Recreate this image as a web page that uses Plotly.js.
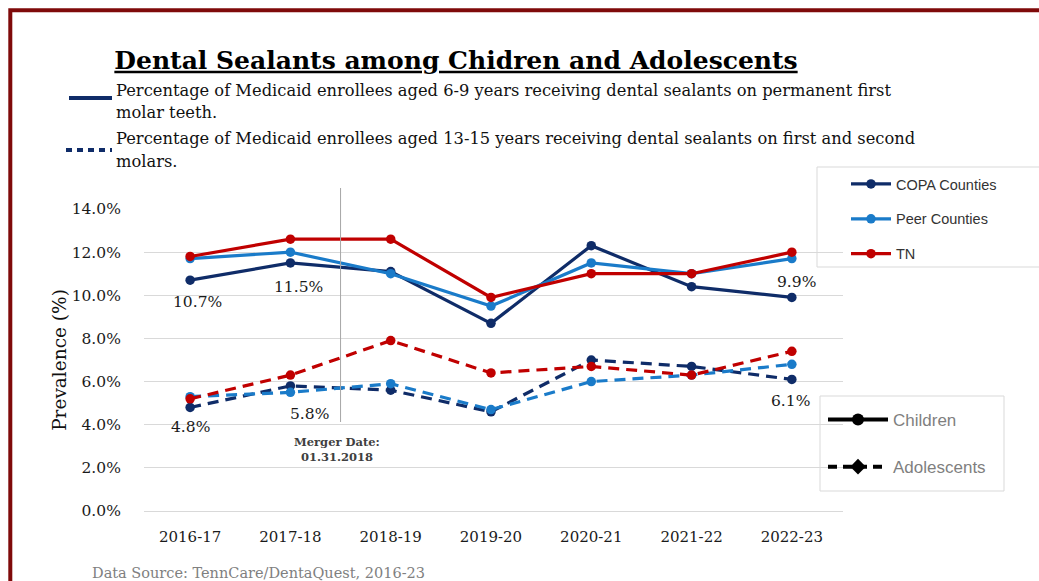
<!DOCTYPE html>
<html>
<head>
<meta charset="utf-8">
<script src="https://cdn.plot.ly/plotly-3.0.1.min.js"></script>
<style>html,body{margin:0;padding:0;background:#fff;}#chart{width:1039px;height:581px;}</style>
</head>
<body>
<div id="chart"></div>
<script>
// ---- data ----
const years = ['2016-17','2017-18','2018-19','2019-20','2020-21','2021-22','2022-23'];
const copaChildren = [10.7, 11.5, 11.1, 8.7, 12.3, 10.4, 9.9];
const peerChildren = [11.7, 12.0, 11.0, 9.5, 11.5, 11.0, 11.7];
const tnChildren   = [11.8, 12.6, 12.6, 9.9, 11.0, 11.0, 12.0];
const copaAdol = [4.8, 5.8, 5.6, 4.6, 7.0, 6.7, 6.1];
const peerAdol = [5.3, 5.5, 5.9, 4.7, 6.0, 6.3, 6.8];
const tnAdol   = [5.2, 6.3, 7.9, 6.4, 6.7, 6.3, 7.4];
const yTicks = [0, 2, 4, 6, 8, 10, 12, 14];
const labelledPoints = [0, 1, 6];

// ---- style ----
const NAVY = '#0F2C68', BLUE = '#1A7BC9', RED = '#C00000';
const SERIF = 'DejaVu Serif, Liberation Serif, serif';
const SANS = 'Liberation Sans, Arial, sans-serif';
const W = 1039, H = 581, ML = 144, MR = 196, MT = 209, MB = 70;
const PW = W - ML - MR, PH = H - MT - MB;
const px = v => (v - ML) / PW;
const py = v => (H - MB - v) / PH;
const DASH = '11px,7px';

function tr(name, y, color, dash, legendShow, grp) {
  return {
    type: 'scatter', mode: 'lines+markers', x: years, y: y, name: name,
    line: {color: color, width: 3.2, dash: dash},
    marker: {color: color, size: 9.5, symbol: 'circle'},
    showlegend: legendShow, legend: 'legend', legendgroup: grp,
    hoverinfo: 'x+y+name'
  };
}

const traces = [
  tr('COPA Counties', copaChildren, NAVY, 'solid', true, 'copa'),
  tr('Peer Counties', peerChildren, BLUE, 'solid', true, 'peer'),
  tr('TN', tnChildren, RED, 'solid', true, 'tn'),
  tr('COPA Counties', copaAdol, NAVY, DASH, false, 'copa'),
  tr('Peer Counties', peerAdol, BLUE, DASH, false, 'peer'),
  tr('TN', tnAdol, RED, DASH, false, 'tn'),
  {type:'scatter', mode:'lines+markers', x:[null], y:[null], name:'Children', legend:'legend2', legendgroup:'ch',
   line:{color:'#000', width:4}, marker:{color:'#000', size:12, symbol:'circle'}},
  {type:'scatter', mode:'lines+markers', x:[null], y:[null], name:'Adolescents', legend:'legend2', legendgroup:'ad',
   line:{color:'#000', width:4, dash:'9px,6px'}, marker:{color:'#000', size:12, symbol:'diamond'}}
];

// data labels (COPA series)
const annotations = [];
const childOff = [[7,-22],[8,-24],[5,15]];
const adolOff = [[0,-20],[19,-28],[-1,-22]];
labelledPoints.forEach((idx, k) => {
  annotations.push({xref:'x', yref:'y', x: years[idx], y: copaChildren[idx], text: copaChildren[idx].toFixed(1) + '%',
    showarrow:false, xshift: childOff[k][0], yshift: childOff[k][1], font:{family:SERIF, size:15.5, color:'#1a1a1a'}});
  annotations.push({xref:'x', yref:'y', x: years[idx], y: copaAdol[idx], text: copaAdol[idx].toFixed(1) + '%',
    showarrow:false, xshift: adolOff[k][0], yshift: adolOff[k][1], font:{family:SERIF, size:15.5, color:'#1a1a1a'}});
});

// description texts
const descFont = {family: SERIF, size: 16.3, color: '#111'};
[['Percentage of Medicaid enrollees aged 6-9 years receiving dental sealants on permanent first', 90],
 ['molar teeth.', 113],
 ['Percentage of Medicaid enrollees aged 13-15 years receiving dental sealants on first and second', 138],
 ['molars.', 161]].forEach(d => {
  annotations.push({xref:'paper', yref:'paper', x: px(114), y: py(d[1]), xanchor:'left', yanchor:'middle',
    text: d[0], showarrow:false, font: descFont});
});
annotations.push({xref:'x', yref:'paper', x: 1.46, y: py(449), text:'<b>Merger Date:</b><br><b>01.31.2018</b>',
  showarrow:false, xanchor:'center', yanchor:'middle', font:{family:SERIF, size:11.5, color:'#404040'}});
annotations.push({xref:'paper', yref:'paper', x: px(90), y: py(573), xanchor:'left', yanchor:'middle',
  text:'Data Source: TennCare/DentaQuest, 2016-23', showarrow:false, font:{family:SERIF, size:14.5, color:'#808080'}});

const shapes = [
  // outer dark-red frame
  {type:'rect', xref:'paper', yref:'paper', x0: px(10.3), x1: px(1050), y0: py(600), y1: py(10.3),
   line:{color:'#7F0A0A', width:4}, layer:'below'},
  // description samples
  {type:'line', xref:'paper', yref:'paper', x0: px(69), x1: px(112), y0: py(98), y1: py(98), line:{color:NAVY, width:4}},
  {type:'line', xref:'paper', yref:'paper', x0: px(66), x1: px(112), y0: py(150), y1: py(150), line:{color:NAVY, width:4, dash:'6px,5px'}},
  // merger line
  {type:'line', xref:'x', yref:'paper', x0: 1.5, x1: 1.5, y0: py(422), y1: py(188), line:{color:'#A6A6A6', width:1}},
  // legend boxes
  {type:'rect', xref:'paper', yref:'paper', x0: px(817), x1: px(1050), y0: py(267), y1: py(167), line:{color:'#D9D9D9', width:1}, fillcolor:'rgba(255,255,255,0)'},
  {type:'rect', xref:'paper', yref:'paper', x0: px(820), x1: px(1004), y0: py(491), y1: py(396), line:{color:'#D9D9D9', width:1}, fillcolor:'rgba(255,255,255,0)'}
];

const layout = {
  width: W, height: H,
  margin: {l: ML, r: MR, t: MT, b: MB},
  paper_bgcolor: '#fff', plot_bgcolor: '#fff',
  title: {text: 'Dental Sealants among Chidren and Adolescents', x: 456 / W, y: 1 - 60 / H, xanchor:'center', yanchor:'middle',
    font: {family: SERIF, size: 25, color: '#000', weight: 'bold', lineposition: 'under'}},
  xaxis: {type:'category', range: [-0.46, 6.51], showgrid:false, zeroline:false, showline:false,
    ticks:'outside', ticklen: 12, tickcolor:'rgba(0,0,0,0)', tickfont:{family:SERIF, size:15, color:'#1a1a1a'}, fixedrange:true},
  yaxis: {range: [0, 14], tickvals: yTicks, ticktext: yTicks.map(v => v.toFixed(1) + '%'),
    gridcolor:'#D9D9D9', gridwidth:1, zeroline:true, zerolinecolor:'#D9D9D9', zerolinewidth:1, showline:false,
    ticks:'outside', ticklen: 19, tickcolor:'rgba(0,0,0,0)', tickfont:{family:SERIF, size:15.5, color:'#1a1a1a'},
    title: {text:'Prevalence (%)', font:{family:SERIF, size:18.5, color:'#111'}, standoff: 0}, fixedrange:true},
  legend: {x: px(846), y: py(168), xanchor:'left', yanchor:'top', bgcolor:'rgba(0,0,0,0)', borderwidth:0,
    font:{family:SANS, size:14.5, color:'#333'}, tracegroupgap: 13, itemwidth: 40, traceorder:'grouped'},
  legend2: {x: px(823), y: py(402), xanchor:'left', yanchor:'top', bgcolor:'rgba(0,0,0,0)', borderwidth:0,
    font:{family:SANS, size:17, color:'#7F7F7F'}, tracegroupgap: 22, itemwidth: 60, traceorder:'grouped'},
  shapes: shapes,
  annotations: annotations,
  showlegend: true
};

Plotly.newPlot('chart', traces, layout, {displayModeBar:false, staticPlot:true});
</script>
</body>
</html>
